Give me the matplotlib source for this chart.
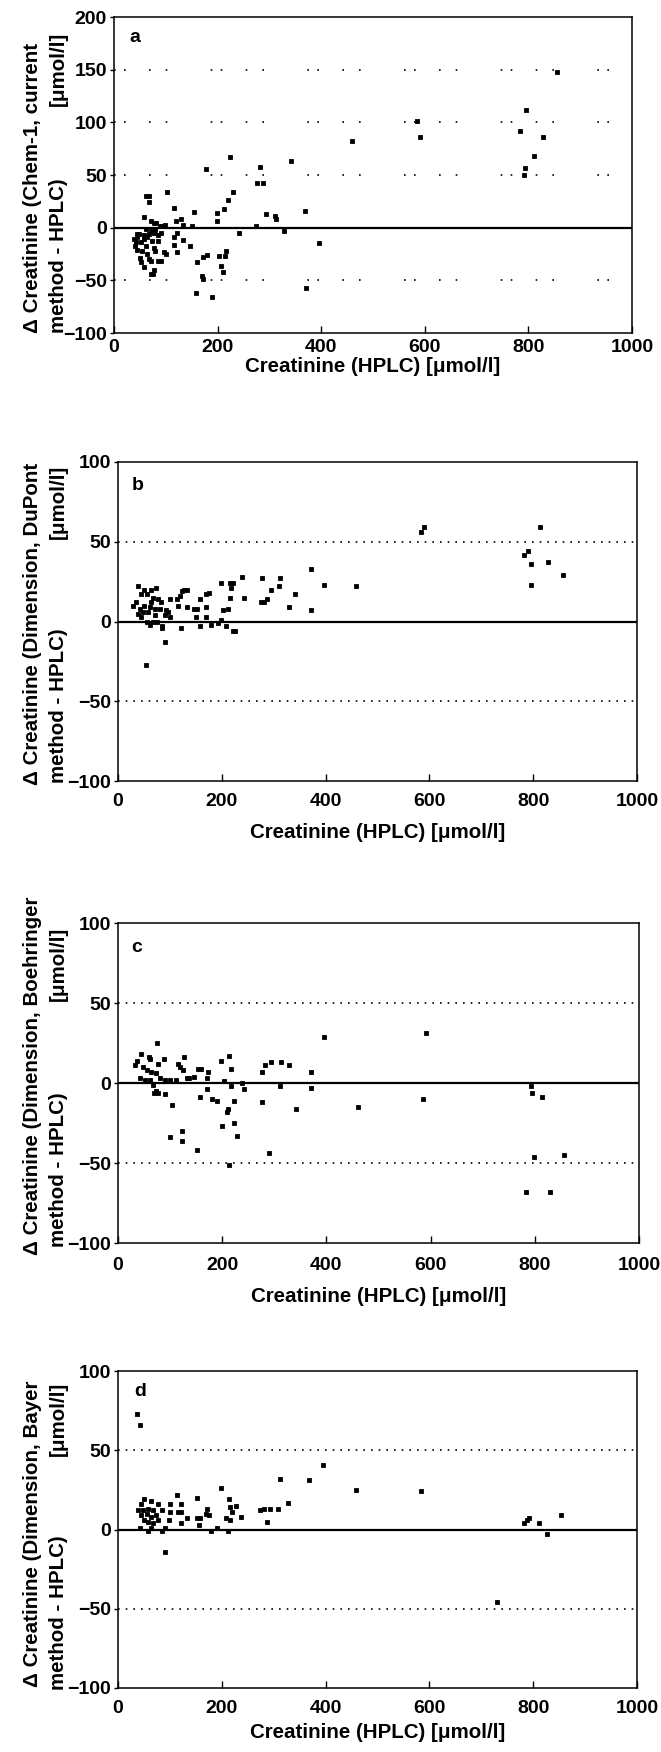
import numpy as np
import matplotlib
matplotlib.use("Agg")
import matplotlib.pyplot as plt

plt.rcParams['font.family'] = ['Liberation Sans', 'DejaVu Sans']
plt.rcParams['font.weight'] = 'bold'

# panel a : Chem-1, current method - HPLC
a_x = [856, 795, 584, 783, 590, 829, 460, 811, 794, 791, 223, 178, 282, 342, 277, 288,
       229, 103, 221, 213, 199, 198, 154, 116, 369, 293, 310, 312, 275, 328, 241, 396,
       371, 158, 190, 171, 169, 207, 210, 217, 215, 203, 180, 171, 160, 147, 133, 122,
       115, 116, 122, 120, 129, 133, 151, 98, 93, 100, 97,
       57, 62, 68, 67, 71, 77, 82, 89, 62, 71, 77, 48, 57, 84, 90, 45, 64, 74, 42, 53,
       84, 40, 61, 77, 45, 55, 64, 80, 50, 53, 58, 68, 72, 84, 90, 77, 76, 71, 39, 44,
       58, 68, 79]
a_y = [148, 112, 101, 92, 86, 86, 82, 68, 57, 50, 67, 56, 58, 63, 42, 42,
       34, 34, 26, 18, 14, 6, 15, 19, 16, 13, 11, 8, 2, -3, -5, -15,
       -57, -62, -66, -49, -46, -36, -42, -22, -27, -27, -26, -28, -33, -17, -12, -23,
       -16, -9, -5, 6, 8, 3, 2, 3, 2, -25, -23,
       10, 30, 30, 24, 6, 4, 4, 2, -1, -3, -5, -6, -7, -7, -5, -9, -9, -13, -14, -14,
       -13, -17, -17, -19, -21, -22, -25, -22, -29, -33, -37, -30, -32, -32, -32, -40, -44, -44, -11, -6,
       -11, -6, -2]

# panel b : Dimension, DuPont method - HPLC
b_x = [590, 584, 813, 790, 783, 795, 829, 796, 857, 371, 459, 396, 342, 371, 329, 313,
       311, 294, 288, 276, 281, 277, 238, 243, 222, 215, 198, 218, 215, 212, 203, 225,
       222, 208, 198, 193, 180, 175, 170, 170, 170, 158, 158, 152, 146, 150, 132, 133,
       128, 124, 119, 114, 116, 122, 101, 100, 96, 91, 84, 53,
       39, 51, 63, 74, 29, 35, 45, 55, 67, 77, 82, 42, 48, 58, 71, 80, 45, 55, 61, 67,
       76, 84, 64, 51, 61, 72, 39, 90, 93]
b_y = [59.5, 56, 59, 44, 42, 36, 37, 23, 29, 33, 22, 23, 17, 7, 9, 27,
       22, 20, 14, 12, 12, 27, 28, 15, 24, 24, 24, 21, 15, 8, 7, -6,
       -6, -3, 1, -1, -2, 18, 17, 9, 3, 14, -3, 8, 8, 3, 9, 20,
       20, 19, 16, 14, 10, -4, 14, 3, 6, -13, -3, -27,
       22, 20, 20, 21, 10, 12, 17, 17, 15, 14, 12, 8, 6, 6, 8, 8, 3, 0, -2, 0,
       0, -4, 12, 10, 9, 4, 5, 4, 7]

# panel c : Dimension, Boehringer method - HPLC
c_x = [396, 591, 74, 44, 60, 62, 89, 127, 32, 37, 48, 55, 64, 72, 42, 51, 61, 80, 90,
       100, 112, 77, 67, 72, 77, 69, 91, 103, 99, 122, 122, 152, 116, 119, 125, 132, 136,
       146, 153, 159, 172, 170, 170, 158, 180, 190, 198, 214, 217, 204, 216, 222, 211,
       209, 199, 222, 229, 214, 238, 242, 276, 283, 294, 312, 328, 310, 276, 290, 342,
       371, 371, 460, 586, 793, 795, 814, 798, 857, 784, 829]
c_y = [29, 31, 25, 18, 16, 15, 15, 16, 11, 14, 10, 8, 7, 6, 3, 2, 2, 3, 2,
       2, 2, 12, -1, -5, -6, -6, -7, -14, -34, -30, -36, -42, 12, 10, 8, 3, 3,
       4, 9, 9, 7, 3, -4, -9, -10, -11, 14, 17, 9, 1, -2, -11, -16,
       -18, -27, -25, -33, -51, 0, -4, 7, 11, 13, 13, 11, -2, -12, -44, -16,
       7, -3, -15, -10, -2, -6, -9, -46, -45, -68, -68]

# panel d : Dimension, Bayer method - HPLC
d_x = [37, 43, 395, 312, 368, 459, 584, 198, 152, 114, 328, 308, 293, 281, 274, 288,
       227, 214, 215, 220, 237, 209, 216, 212, 190, 180, 172, 170, 175, 158, 152, 157,
       132, 122, 116, 121, 101, 100, 98, 122, 91, 84, 90, 42, 58,
       50, 63, 44, 77, 39, 48, 57, 67, 84, 45, 55, 64, 74, 58, 67, 77, 64, 50,
       854, 792, 789, 782, 812, 827, 730]
d_y = [73, 66, 41, 32, 31, 25, 24, 26, 20, 22, 17, 13, 13, 13, 12, 5,
       15, 19, 14, 11, 8, 7, 6, -1, 1, -1, 13, 10, 9, 7, 7, 3,
       7, 11, 11, 16, 16, 11, 6, 4, -14, -1, 1, 1, -1,
       19, 18, 16, 16, 12, 12, 13, 12, 12, 9, 10, 8, 9, 5, 4, 6, 1, 6,
       9, 7, 6, 4, 4, -3, -46]

x_ticks = [0, 200, 400, 600, 800, 1000]
ylab1 = ["\u0394 Creatinine (Chem-1, current",
         "\u0394 Creatinine (Dimension, DuPont",
         "\u0394 Creatinine (Dimension, Boehringer",
         "\u0394 Creatinine (Dimension, Bayer"]
letters = ["a", "b", "c", "d"]

W, H = 661, 1752
fig = plt.figure(figsize=(W / 100, H / 100), dpi=100)

# left, right, top, bottom in pixels
boxes = [(114, 632, 17, 333), (118, 637, 462, 781),
         (118, 639, 923, 1243), (118, 637, 1371, 1688)]
xtick_pad = [4.3, 8.5, 10, 8.5]
xlab_y = [366, 833, 1297, 1732]
lab1_bottom = [333, 785, 1255, 1687]
lab2_bottom = [333, 783, 1247, 1690]
lab2_top = [32, 465, 927, 1382]
letter_pos = [(129, 37), (132, 485), (131, 947), (134, 1392)]

series = [(a_x, a_y), (b_x, b_y), (c_x, c_y), (d_x, d_y)]
fs_lab = 14.8
fs_tick = 14

for i, (l, r, t, b) in enumerate(boxes):
    ax = fig.add_axes([l / W, 1 - b / H, (r - l) / W, (b - t) / H])
    x, y = series[i]
    ax.plot(x, y, 's', color='black', ms=3.4, mec='black', mew=0.6)
    ax.axhline(0, color='black', lw=1.6)
    if i == 0:
        ax.set_ylim(-100, 200)
        ax.set_yticks([-100, -50, 0, 50, 100, 150, 200])
        for lev in [150, 100, 50, -50]:
            ax.axhline(lev, color='black', lw=1.2, ls=(0, (1, 5, 1, 14, 1, 9, 1, 26)))
    else:
        ax.set_ylim(-100, 100)
        ax.set_yticks([-100, -50, 0, 50, 100])
        for lev in [50, -50]:
            ax.axhline(lev, color='black', lw=1.2, ls=(0, (1, 3.6)))
    ax.set_xlim(0, 1000)
    ax.set_xticks(x_ticks)
    ax.tick_params(axis='x', direction='in', length=5, width=1, pad=xtick_pad[i], labelsize=fs_tick)
    ax.tick_params(axis='y', direction='out', length=3, width=1, pad=2, labelsize=fs_tick)
    for lab in ax.get_xticklabels() + ax.get_yticklabels():
        lab.set_fontweight('bold')
    for s in ax.spines.values():
        s.set_linewidth(1.1)

    fig.text(letter_pos[i][0] / W, 1 - letter_pos[i][1] / H, letters[i],
             ha='left', va='center', fontsize=14, fontweight='bold')
    fig.text((l + r) / 2 / W, 1 - xlab_y[i] / H, "Creatinine (HPLC) [\u03bcmol/l]",
             ha='center', va='center', fontsize=fs_lab, fontweight='bold')
    fig.text(33 / W, 1 - lab1_bottom[i] / H, ylab1[i], rotation=90,
             ha='center', va='bottom', fontsize=fs_lab, fontweight='bold')
    fig.text(58 / W, 1 - lab2_bottom[i] / H, "method - HPLC)", rotation=90,
             ha='center', va='bottom', fontsize=fs_lab, fontweight='bold')
    fig.text(58 / W, 1 - lab2_top[i] / H, "[\u03bcmol/l]", rotation=90,
             ha='center', va='top', fontsize=fs_lab, fontweight='bold')

fig.savefig("out.png", dpi=100)
